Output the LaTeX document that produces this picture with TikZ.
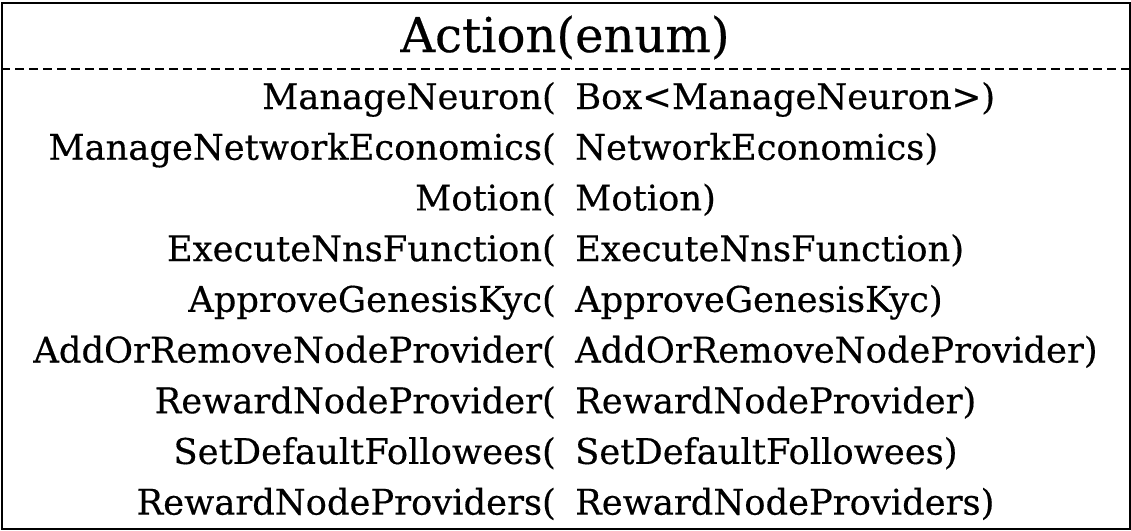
\documentclass[tikz,border=0pt]{standalone}
\usepackage{fontspec}
\setmainfont[FakeBold=0.4]{DejaVu Serif}
\begin{document}
\begin{tikzpicture}[x=1pt,y=-1pt,
  rowtext/.style={inner sep=0pt,font=\fontsize{35.3}{40}\selectfont},
  lefttext/.style={rowtext,anchor=base east},
  righttext/.style={rowtext,anchor=base west},
  titletext/.style={inner sep=0pt,anchor=base,font=\fontsize{48}{56}\selectfont},
  frame/.style={draw,line width=2pt},
  sep/.style={draw,line width=1.5pt,dash pattern=on 9pt off 5pt}]
\useasboundingbox (0,0) rectangle (1131,530);
\fill[white] (0,0) rectangle (1131,530);
\node[frame,minimum width=1128pt,minimum height=526pt,anchor=north west,inner sep=0pt] (box) at (1,2) {};
\coordinate (sl) at (1,69);
\coordinate (sr) at (1129,69);
\draw[sep] (sl) -- (sr);
\node[titletext] (title) at (565,52) {Action(enum)};
\foreach \i/\l/\r in {0/ManageNeuron(/Box<ManageNeuron>),
  1/ManageNetworkEconomics(/NetworkEconomics),
  2/Motion(/Motion),
  3/ExecuteNnsFunction(/ExecuteNnsFunction),
  4/ApproveGenesisKyc(/ApproveGenesisKyc),
  5/AddOrRemoveNodeProvider(/AddOrRemoveNodeProvider),
  6/RewardNodeProvider(/RewardNodeProvider),
  7/SetDefaultFollowees(/SetDefaultFollowees),
  8/RewardNodeProviders(/RewardNodeProviders)}{
  \node[lefttext] (l\i) at (556,109+50.7*\i) {\l};
  \node[righttext] (r\i) at (575,109+50.7*\i) {\r};
}
\end{tikzpicture}
\end{document}
